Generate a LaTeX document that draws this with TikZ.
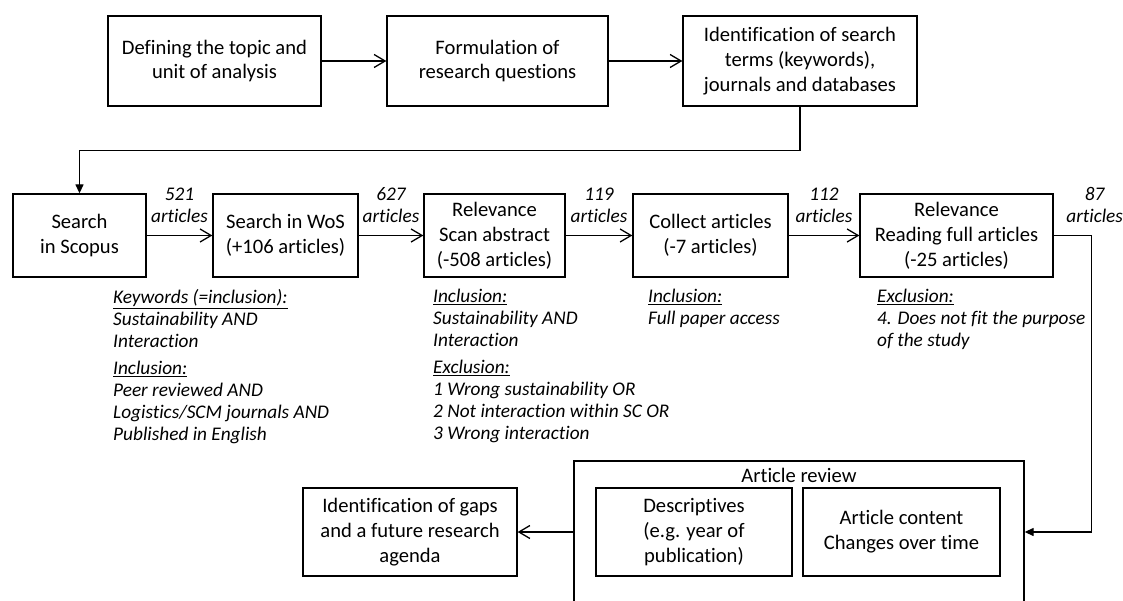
\documentclass[tikz,border=0pt]{standalone}
\usepackage{fontspec}
\setmainfont{Carlito}[Ligatures=NoCommon]
\usetikzlibrary{positioning,arrows.meta}

\begin{document}
\begin{tikzpicture}[x=1pt, y=-1pt,
  every node/.style={font=\fontsize{20.6}{24.8}\selectfont},
  box/.style ={draw, line width=1.3pt, align=center, inner sep=2pt},
  note/.style={anchor=north west, align=left, inner sep=0pt,
               font=\fontsize{19.3}{22}\selectfont\itshape},
  cnt/.style ={align=center, inner sep=0pt,
               font=\fontsize{19.3}{22}\selectfont\itshape},
  arr/.style ={-{Straight Barb[length=11pt,width=13pt]}, line width=1.3pt},
  farr/.style={-{Triangle[length=9pt,width=8pt]}, line width=1.3pt}
]
\clip (0,0) rectangle (1123,601);

%% ---- Planning steps -----------------------------------------------
\node[box, minimum width=213pt, minimum height=90pt] (topic) at (214.5,61)
      {Defining the topic and\\unit of analysis};
\node[box, minimum width=221pt, minimum height=90pt] (quest) at (497.5,61)
      {Formulation of\\research questions};
\node[box, minimum width=234pt, minimum height=90pt] (terms) at (800,61)
      {Identification of search\\terms (keywords),\\journals and databases};

\draw[arr] (topic) -- (quest);
\draw[arr] (quest) -- (terms);

%% ---- Search and selection -----------------------------------------
\node[box, minimum width=133pt, minimum height=83pt] (scopus) at (79.5,235.5)
      {Search\\in Scopus};
\node[box, minimum width=145pt, minimum height=83pt] (wos) at (285.5,235.5)
      {Search in WoS\\(+106 articles)};
\node[box, minimum width=141pt, minimum height=83pt] (scan) at (494.5,235.5)
      {Relevance\\Scan abstract\\(-508 articles)};
\node[box, minimum width=155pt, minimum height=83pt] (collect) at (710.5,235.5)
      {Collect articles\\(-7 articles)};
\node[box, minimum width=193pt, minimum height=83pt] (read) at (956.5,235.5)
      {Relevance\\Reading full articles\\(-25 articles)};

\draw[farr] (terms.south) -- ++(0,44) -| (scopus.north);
\draw[arr] (scopus) -- node[cnt, above=12pt] {521\\articles} (wos);
\draw[arr] (wos) -- node[cnt, above=12pt] {627\\articles} (scan);
\draw[arr] (scan) -- node[cnt, above=12pt] {119\\articles} (collect);
\draw[arr] (collect) -- node[cnt, above=12pt] {112\\articles} (read);

%% ---- Criteria -----------------------------------------------------
\node[note] (kwnote) at (113,289)
      {\underline{Keywords (=inclusion):}\\Sustainability AND\\Interaction\\[5pt]
       \underline{Inclusion:}\\Peer reviewed AND\\Logistics/SCM journals AND\\Published in English};
\node[note] (scannote) at (433,289)
      {\underline{Inclusion:}\\Sustainability AND\\Interaction\\[5pt]
       \underline{Exclusion:}\\1 Wrong sustainability OR\\2 Not interaction within SC OR\\3 Wrong interaction};
\node[note] (colnote) at (648,289)
      {\underline{Inclusion:}\\Full paper access};
\node[note] (readnote) at (877,289)
      {\underline{Exclusion:}\\4. Does not fit the purpose\\of the study};

%% ---- Review and outcome -------------------------------------------
\node[box, minimum width=450pt, minimum height=142pt] (review) at (799,532) {};
\node (revtitle) at (799,475) {Article review};
\node[box, minimum width=196pt, minimum height=88pt] (desc) at (694,532)
      {Descriptives\\(e.g. year of\\publication)};
\node[box, minimum width=197pt, minimum height=88pt] (content) at (901.5,532)
      {Article content\\Changes over time};
\node[box, minimum width=214pt, minimum height=88pt] (gaps) at (410,532)
      {Identification of gaps\\and a future research\\agenda};

\draw[farr] (read.east) -- ++(38,0)
      node[cnt, above=12pt, xshift=3pt] {87\\articles} |- (review.east);
\draw[arr] (review.west) -- (gaps.east);

\end{tikzpicture}
\end{document}
